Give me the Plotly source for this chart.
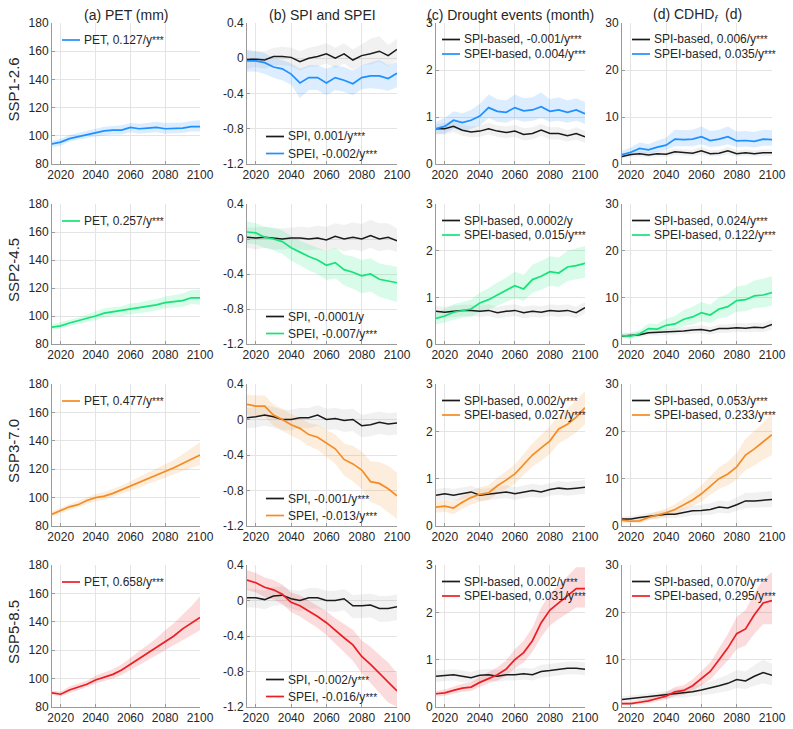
import plotly.graph_objects as go

# ---------------- data ----------------
YEARS = [2015, 2020, 2025, 2030, 2035, 2040, 2045, 2050, 2055, 2060,
         2065, 2070, 2075, 2080, 2085, 2090, 2095, 2100]

SCENARIOS = ["SSP1-2.6", "SSP2-4.5", "SSP3-7.0", "SSP5-8.5"]
PANEL_TITLES = ["(a) PET (mm)", "(b) SPI and SPEI", "(c) Drought events (month)",
                "(d) CDHD<sub><i>f</i></sub>  (d)"]

# ---- SSP1-2.6 ----
PET_126 = [94.2, 95.5, 98.0, 99.5, 101.0, 102.0, 103.5, 104.0, 104.0, 106.0, 105.0, 105.5, 106.0, 105.0, 105.0, 105.5, 106.5, 106.5]
PET_126_LO = [92.0, 93.0, 96.0, 97.0, 98.5, 99.5, 100.5, 101.0, 101.0, 102.5, 101.5, 102.0, 102.5, 101.5, 101.5, 102.0, 103.0, 103.0]
PET_126_HI = [96.5, 98.0, 100.5, 102.0, 103.5, 105.0, 106.5, 107.0, 107.5, 109.0, 108.5, 109.0, 110.0, 109.0, 109.0, 109.5, 110.5, 111.0]
SPI_126 = [-0.01, -0.01, -0.02, 0.02, 0.02, 0.01, -0.04, 0.00, 0.02, 0.05, 0.00, 0.05, -0.02, 0.03, 0.05, 0.08, 0.03, 0.10]
SPI_126_LO = [-0.12, -0.10, -0.12, -0.08, -0.08, -0.09, -0.14, -0.10, -0.09, -0.06, -0.11, -0.06, -0.13, -0.08, -0.07, -0.04, -0.09, -0.02]
SPI_126_HI = [0.08, 0.08, 0.08, 0.12, 0.13, 0.12, 0.08, 0.12, 0.14, 0.17, 0.12, 0.17, 0.10, 0.16, 0.22, 0.25, 0.15, 0.22]
SPEI_126 = [-0.03, -0.03, -0.05, -0.10, -0.12, -0.18, -0.28, -0.22, -0.22, -0.28, -0.22, -0.25, -0.29, -0.22, -0.20, -0.20, -0.23, -0.17]
SPEI_126_LO = [-0.15, -0.15, -0.18, -0.22, -0.25, -0.30, -0.45, -0.36, -0.36, -0.42, -0.36, -0.38, -0.42, -0.35, -0.34, -0.35, -0.37, -0.33]
SPEI_126_HI = [0.10, 0.08, 0.06, 0.00, -0.02, -0.06, -0.12, -0.08, -0.08, -0.12, -0.08, -0.10, -0.14, -0.08, -0.05, -0.02, -0.08, -0.04]
DE_SPI_126 = [0.75, 0.75, 0.80, 0.72, 0.68, 0.70, 0.75, 0.70, 0.67, 0.70, 0.63, 0.65, 0.72, 0.65, 0.65, 0.60, 0.65, 0.58]
DE_SPI_126_LO = [0.65, 0.62, 0.68, 0.60, 0.57, 0.58, 0.63, 0.58, 0.55, 0.58, 0.50, 0.52, 0.60, 0.52, 0.52, 0.48, 0.52, 0.45]
DE_SPI_126_HI = [0.85, 0.87, 0.92, 0.84, 0.80, 0.82, 0.88, 0.82, 0.80, 0.83, 0.76, 0.78, 0.85, 0.78, 0.78, 0.72, 0.78, 0.70]
DE_SPEI_126 = [0.75, 0.80, 0.93, 0.88, 0.93, 1.02, 1.20, 1.12, 1.10, 1.20, 1.13, 1.15, 1.22, 1.12, 1.15, 1.10, 1.15, 1.07]
DE_SPEI_126_LO = [0.62, 0.65, 0.75, 0.70, 0.75, 0.82, 0.98, 0.90, 0.88, 0.95, 0.90, 0.92, 0.98, 0.90, 0.92, 0.88, 0.92, 0.85]
DE_SPEI_126_HI = [0.90, 0.98, 1.12, 1.08, 1.15, 1.28, 1.48, 1.38, 1.35, 1.48, 1.40, 1.42, 1.52, 1.38, 1.42, 1.35, 1.40, 1.32]
CD_SPI_126 = [1.6, 2.0, 2.2, 1.9, 2.2, 2.1, 2.6, 2.5, 2.3, 2.8, 2.2, 2.3, 2.8, 2.2, 2.4, 2.2, 2.4, 2.4]
CD_SPI_126_LO = [1.2, 1.5, 1.6, 1.4, 1.6, 1.5, 1.9, 1.8, 1.7, 2.0, 1.6, 1.7, 2.0, 1.6, 1.7, 1.6, 1.7, 1.7]
CD_SPI_126_HI = [2.0, 2.5, 2.8, 2.5, 2.8, 2.8, 3.3, 3.2, 3.0, 3.6, 2.9, 3.0, 3.6, 2.9, 3.1, 2.9, 3.1, 3.1]
CD_SPEI_126 = [2.0, 2.5, 3.3, 3.0, 3.6, 4.0, 5.3, 5.2, 5.3, 5.8, 5.0, 5.3, 5.8, 4.9, 5.0, 4.8, 5.3, 5.2]
CD_SPEI_126_LO = [1.4, 1.8, 2.4, 2.2, 2.6, 3.0, 3.8, 3.8, 3.8, 4.2, 3.6, 3.8, 4.2, 3.6, 3.7, 3.5, 3.9, 3.9]
CD_SPEI_126_HI = [2.8, 3.5, 4.6, 4.2, 5.0, 5.6, 7.3, 7.2, 7.3, 8.0, 7.0, 7.3, 8.0, 6.9, 7.0, 6.8, 7.3, 7.2]

# ---- SSP2-4.5 ----
PET_245 = [92.0, 93.0, 95.0, 96.5, 98.0, 100.0, 102.0, 103.0, 103.5, 105.0, 105.5, 107.0, 108.0, 109.5, 110.5, 111.0, 113.0, 113.0]
PET_245_LO = [90.0, 91.0, 92.5, 94.0, 95.5, 97.0, 99.0, 100.0, 100.0, 101.5, 102.0, 103.0, 104.0, 105.5, 106.0, 106.5, 108.5, 108.0]
PET_245_HI = [94.0, 95.5, 97.5, 99.0, 101.0, 103.0, 105.5, 106.5, 107.0, 109.0, 109.5, 111.0, 112.0, 114.0, 115.0, 116.0, 118.5, 119.0]
SPI_245 = [0.02, 0.01, 0.02, 0.01, 0.00, 0.01, 0.01, 0.00, 0.01, -0.01, 0.03, 0.00, 0.02, 0.00, 0.04, 0.00, 0.02, -0.02]
SPI_245_LO = [-0.10, -0.12, -0.10, -0.12, -0.12, -0.11, -0.12, -0.13, -0.12, -0.14, -0.11, -0.14, -0.12, -0.14, -0.10, -0.14, -0.12, -0.15]
SPI_245_HI = [0.13, 0.13, 0.14, 0.13, 0.12, 0.13, 0.14, 0.13, 0.15, 0.14, 0.18, 0.16, 0.19, 0.17, 0.22, 0.18, 0.18, 0.12]
SPEI_245 = [0.08, 0.07, 0.02, 0.00, -0.03, -0.10, -0.15, -0.20, -0.24, -0.30, -0.27, -0.35, -0.38, -0.42, -0.40, -0.46, -0.48, -0.50]
SPEI_245_LO = [-0.05, -0.06, -0.10, -0.13, -0.17, -0.25, -0.30, -0.36, -0.40, -0.47, -0.45, -0.53, -0.57, -0.62, -0.60, -0.66, -0.69, -0.72]
SPEI_245_HI = [0.20, 0.18, 0.14, 0.12, 0.10, 0.03, -0.02, -0.06, -0.10, -0.14, -0.10, -0.18, -0.20, -0.24, -0.22, -0.28, -0.30, -0.32]
DE_SPI_245 = [0.70, 0.68, 0.70, 0.72, 0.72, 0.70, 0.72, 0.67, 0.70, 0.72, 0.67, 0.70, 0.68, 0.72, 0.70, 0.72, 0.67, 0.78]
DE_SPI_245_LO = [0.58, 0.56, 0.58, 0.60, 0.60, 0.58, 0.60, 0.55, 0.58, 0.60, 0.55, 0.58, 0.56, 0.60, 0.58, 0.60, 0.55, 0.66]
DE_SPI_245_HI = [0.82, 0.80, 0.82, 0.84, 0.84, 0.82, 0.85, 0.80, 0.83, 0.85, 0.80, 0.83, 0.81, 0.85, 0.83, 0.85, 0.80, 0.90]
DE_SPEI_245 = [0.55, 0.60, 0.68, 0.72, 0.75, 0.88, 0.95, 1.05, 1.15, 1.25, 1.18, 1.38, 1.45, 1.55, 1.52, 1.65, 1.68, 1.73]
DE_SPEI_245_LO = [0.42, 0.46, 0.52, 0.56, 0.58, 0.68, 0.74, 0.82, 0.90, 0.98, 0.92, 1.10, 1.16, 1.25, 1.22, 1.35, 1.38, 1.42]
DE_SPEI_245_HI = [0.68, 0.75, 0.85, 0.90, 0.95, 1.10, 1.20, 1.32, 1.42, 1.55, 1.48, 1.70, 1.78, 1.88, 1.85, 2.00, 2.05, 2.10]
CD_SPI_245 = [1.7, 1.9, 2.0, 2.4, 2.5, 2.5, 2.7, 2.8, 3.0, 3.1, 2.8, 3.3, 3.3, 3.5, 3.4, 3.6, 3.5, 4.2]
CD_SPI_245_LO = [1.3, 1.4, 1.5, 1.8, 1.8, 1.8, 2.0, 2.0, 2.2, 2.3, 2.0, 2.4, 2.4, 2.6, 2.5, 2.6, 2.5, 3.1]
CD_SPI_245_HI = [2.1, 2.4, 2.6, 3.0, 3.2, 3.2, 3.4, 3.6, 3.8, 4.0, 3.6, 4.2, 4.2, 4.5, 4.4, 4.6, 4.5, 5.3]
CD_SPEI_245 = [1.8, 1.7, 2.2, 3.3, 3.2, 4.0, 4.3, 5.3, 5.8, 6.7, 6.2, 7.5, 8.0, 9.3, 9.5, 10.3, 10.5, 11.0]
CD_SPEI_245_LO = [1.3, 1.2, 1.6, 2.4, 2.3, 2.9, 3.1, 3.8, 4.2, 4.9, 4.5, 5.5, 5.9, 6.9, 7.0, 7.7, 7.8, 8.2]
CD_SPEI_245_HI = [2.4, 2.4, 3.0, 4.4, 4.3, 5.4, 6.0, 7.3, 8.0, 9.0, 8.4, 10.0, 10.7, 12.3, 12.6, 13.6, 14.0, 14.5]

# ---- SSP3-7.0 ----
PET_370 = [88.3, 91.0, 93.5, 95.0, 98.0, 100.0, 101.0, 103.0, 105.5, 108.0, 110.5, 113.0, 116.0, 118.5, 121.0, 124.0, 127.0, 130.0]
PET_370_LO = [86.5, 89.0, 91.5, 93.0, 95.5, 97.5, 98.5, 100.5, 102.5, 105.0, 107.0, 109.5, 112.0, 114.0, 116.5, 118.5, 121.0, 123.0]
PET_370_HI = [90.5, 93.0, 95.5, 97.5, 100.5, 102.5, 104.0, 106.0, 108.5, 111.5, 114.5, 117.0, 120.5, 123.5, 126.5, 130.5, 135.0, 139.0]
SPI_370 = [0.02, 0.03, 0.05, 0.03, 0.00, 0.00, 0.02, 0.02, 0.05, 0.00, 0.01, -0.01, 0.00, -0.07, -0.06, -0.03, -0.05, -0.04]
SPI_370_LO = [-0.10, -0.09, -0.07, -0.09, -0.12, -0.12, -0.10, -0.10, -0.07, -0.12, -0.11, -0.14, -0.13, -0.20, -0.19, -0.16, -0.18, -0.17]
SPI_370_HI = [0.13, 0.14, 0.16, 0.14, 0.11, 0.11, 0.13, 0.13, 0.16, 0.12, 0.13, 0.11, 0.12, 0.05, 0.07, 0.09, 0.07, 0.08]
SPEI_370 = [0.17, 0.15, 0.15, 0.05, 0.00, -0.06, -0.10, -0.17, -0.20, -0.27, -0.33, -0.45, -0.50, -0.57, -0.70, -0.72, -0.78, -0.86]
SPEI_370_LO = [0.05, 0.03, 0.03, -0.07, -0.12, -0.18, -0.23, -0.30, -0.34, -0.42, -0.50, -0.63, -0.70, -0.78, -0.93, -0.97, -1.04, -1.12]
SPEI_370_HI = [0.28, 0.27, 0.27, 0.17, 0.12, 0.06, 0.02, -0.04, -0.06, -0.12, -0.17, -0.27, -0.30, -0.36, -0.47, -0.48, -0.52, -0.60]
DE_SPI_370 = [0.65, 0.68, 0.65, 0.68, 0.72, 0.65, 0.67, 0.70, 0.72, 0.68, 0.72, 0.75, 0.72, 0.77, 0.80, 0.78, 0.80, 0.82]
DE_SPI_370_LO = [0.53, 0.56, 0.53, 0.56, 0.60, 0.53, 0.55, 0.57, 0.59, 0.55, 0.59, 0.62, 0.59, 0.64, 0.66, 0.64, 0.66, 0.68]
DE_SPI_370_HI = [0.78, 0.81, 0.78, 0.81, 0.85, 0.78, 0.80, 0.84, 0.86, 0.82, 0.86, 0.89, 0.86, 0.91, 0.95, 0.93, 0.95, 0.97]
DE_SPEI_370 = [0.40, 0.42, 0.38, 0.50, 0.60, 0.67, 0.70, 0.85, 0.97, 1.10, 1.30, 1.50, 1.65, 1.80, 2.05, 2.15, 2.30, 2.50]
DE_SPEI_370_LO = [0.28, 0.30, 0.25, 0.36, 0.45, 0.52, 0.55, 0.68, 0.78, 0.90, 1.08, 1.25, 1.38, 1.52, 1.75, 1.85, 1.98, 2.15]
DE_SPEI_370_HI = [0.52, 0.55, 0.52, 0.64, 0.75, 0.82, 0.86, 1.02, 1.16, 1.30, 1.52, 1.75, 1.92, 2.10, 2.35, 2.48, 2.65, 2.85]
CD_SPI_370 = [1.5, 1.5, 1.8, 2.0, 2.2, 2.5, 2.5, 2.8, 3.2, 3.3, 3.5, 4.0, 3.8, 4.5, 5.3, 5.3, 5.4, 5.6]
CD_SPI_370_LO = [1.0, 1.0, 1.2, 1.4, 1.5, 1.7, 1.7, 1.9, 2.2, 2.3, 2.4, 2.8, 2.6, 3.2, 3.8, 3.8, 3.9, 4.0]
CD_SPI_370_HI = [2.0, 2.1, 2.4, 2.7, 3.0, 3.3, 3.4, 3.8, 4.3, 4.5, 4.8, 5.4, 5.2, 6.0, 7.0, 7.0, 7.2, 7.4]
CD_SPEI_370 = [1.2, 1.0, 1.1, 1.8, 2.3, 2.8, 3.5, 4.5, 5.5, 6.8, 8.5, 10.0, 11.0, 12.5, 15.0, 16.3, 17.8, 19.3]
CD_SPEI_370_LO = [0.7, 0.6, 0.6, 1.2, 1.6, 2.0, 2.6, 3.4, 4.2, 5.2, 6.6, 7.8, 8.6, 9.8, 11.8, 12.8, 14.0, 15.0]
CD_SPEI_370_HI = [1.8, 1.5, 1.7, 2.5, 3.1, 3.7, 4.6, 5.8, 7.0, 8.6, 10.6, 12.4, 13.6, 15.4, 18.4, 20.0, 21.8, 23.8]

# ---- SSP5-8.5 ----
PET_585 = [90.0, 89.0, 92.0, 94.0, 96.0, 99.0, 101.0, 103.0, 106.0, 110.0, 114.0, 118.0, 122.0, 126.0, 130.0, 135.0, 139.0, 143.0]
PET_585_LO = [88.5, 87.5, 90.0, 92.0, 94.0, 96.5, 98.5, 100.0, 102.5, 106.0, 109.5, 113.0, 116.5, 119.5, 123.0, 127.0, 130.5, 134.0]
PET_585_HI = [91.5, 91.0, 94.5, 96.5, 98.5, 102.0, 104.0, 106.5, 110.0, 114.5, 119.0, 123.5, 128.5, 134.0, 139.0, 145.0, 151.0, 158.0]
SPI_585 = [0.03, 0.03, 0.01, 0.05, 0.06, 0.02, 0.00, 0.03, 0.03, 0.00, 0.00, 0.02, -0.06, -0.06, -0.05, -0.09, -0.09, -0.07]
SPI_585_LO = [-0.08, -0.08, -0.10, -0.06, -0.05, -0.09, -0.12, -0.09, -0.09, -0.12, -0.13, -0.11, -0.20, -0.20, -0.19, -0.24, -0.24, -0.22]
SPI_585_HI = [0.13, 0.13, 0.11, 0.15, 0.16, 0.12, 0.11, 0.14, 0.14, 0.11, 0.11, 0.13, 0.06, 0.07, 0.08, 0.05, 0.05, 0.07]
SPEI_585 = [0.23, 0.20, 0.15, 0.12, 0.07, -0.02, -0.06, -0.12, -0.18, -0.25, -0.34, -0.42, -0.50, -0.63, -0.72, -0.82, -0.92, -1.02]
SPEI_585_LO = [0.12, 0.09, 0.04, 0.01, -0.04, -0.13, -0.18, -0.24, -0.31, -0.39, -0.49, -0.58, -0.68, -0.82, -0.93, -1.04, -1.15, -1.20]
SPEI_585_HI = [0.34, 0.31, 0.26, 0.23, 0.18, 0.09, 0.06, 0.00, -0.06, -0.12, -0.20, -0.27, -0.33, -0.45, -0.52, -0.61, -0.70, -0.82]
DE_SPI_585 = [0.65, 0.67, 0.68, 0.65, 0.62, 0.67, 0.68, 0.65, 0.68, 0.68, 0.70, 0.68, 0.75, 0.77, 0.80, 0.82, 0.82, 0.80]
DE_SPI_585_LO = [0.53, 0.55, 0.56, 0.53, 0.50, 0.55, 0.56, 0.53, 0.56, 0.56, 0.58, 0.56, 0.62, 0.64, 0.67, 0.69, 0.69, 0.67]
DE_SPI_585_HI = [0.77, 0.79, 0.80, 0.77, 0.74, 0.79, 0.81, 0.78, 0.81, 0.81, 0.83, 0.81, 0.89, 0.91, 0.94, 0.96, 0.96, 0.94]
DE_SPEI_585 = [0.28, 0.30, 0.35, 0.40, 0.42, 0.52, 0.60, 0.68, 0.80, 1.00, 1.15, 1.40, 1.78, 2.05, 2.20, 2.35, 2.50, 2.50]
DE_SPEI_585_LO = [0.22, 0.24, 0.28, 0.32, 0.34, 0.42, 0.50, 0.56, 0.65, 0.82, 0.94, 1.16, 1.48, 1.72, 1.86, 1.98, 2.10, 2.10]
DE_SPEI_585_HI = [0.34, 0.37, 0.43, 0.49, 0.52, 0.64, 0.74, 0.84, 0.98, 1.22, 1.40, 1.68, 2.10, 2.40, 2.58, 2.76, 2.95, 2.95]
CD_SPI_585 = [1.6, 1.8, 2.0, 2.2, 2.3, 2.5, 2.8, 2.9, 3.2, 3.6, 4.0, 4.5, 5.0, 5.8, 5.5, 6.5, 7.3, 6.7]
CD_SPI_585_LO = [1.1, 1.2, 1.4, 1.5, 1.6, 1.7, 1.9, 2.0, 2.2, 2.5, 2.7, 3.0, 3.4, 4.0, 3.8, 4.5, 5.0, 4.6]
CD_SPI_585_HI = [2.2, 2.4, 2.7, 2.9, 3.1, 3.4, 3.8, 4.0, 4.4, 4.9, 5.4, 6.1, 6.8, 7.8, 7.5, 8.8, 10.0, 9.2]
CD_SPEI_585 = [0.7, 0.7, 1.0, 1.3, 1.8, 2.3, 3.2, 3.5, 4.5, 6.0, 7.5, 10.0, 12.5, 15.5, 16.5, 19.5, 22.0, 22.5]
CD_SPEI_585_LO = [0.4, 0.4, 0.6, 0.8, 1.2, 1.6, 2.3, 2.6, 3.4, 4.6, 5.8, 7.8, 9.8, 12.2, 13.0, 15.5, 17.5, 17.5]
CD_SPEI_585_HI = [1.1, 1.1, 1.5, 1.9, 2.5, 3.1, 4.2, 4.6, 5.8, 7.6, 9.4, 12.4, 15.4, 19.0, 20.5, 24.0, 27.0, 28.5]

# legend labels
LEG_PET = ["PET, 0.127/y***", "PET, 0.257/y***", "PET, 0.477/y***", "PET, 0.658/y***"]
LEG_SPI = [["SPI, 0.001/y***", "SPEI, -0.002/y***"], ["SPI, -0.0001/y", "SPEI, -0.007/y***"],
           ["SPI, -0.001/y***", "SPEI, -0.013/y***"], ["SPI, -0.002/y***", "SPEI, -0.016/y***"]]
LEG_DE = [["SPI-based, -0.001/y***", "SPEI-based, 0.004/y***"], ["SPI-based, 0.0002/y", "SPEI-based, 0.015/y***"],
          ["SPI-based, 0.002/y***", "SPEI-based, 0.027/y***"], ["SPI-based, 0.002/y***", "SPEI-based, 0.031/y***"]]
LEG_CD = [["SPI-based, 0.006/y***", "SPEI-based, 0.035/y***"], ["SPI-based, 0.024/y***", "SPEI-based, 0.122/y***"],
          ["SPI-based, 0.053/y***", "SPEI-based, 0.233/y***"], ["SPI-based, 0.070/y***", "SPEI-based, 0.295/y***"]]

# axes
Y_RANGES = [[80, 180], [-1.2, 0.4], [0, 3], [0, 30]]
Y_TICKS = [[80, 100, 120, 140, 160, 180], [-1.2, -0.8, -0.4, 0, 0.4], [0, 1, 2, 3], [0, 10, 20, 30]]
Y_TICKTEXT = [["80", "100", "120", "140", "160", "180"], ["-1.2", "-0.8", "-0.4", "0", "0.4"],
              ["0", "1", "2", "3"], ["0", "10", "20", "30"]]
X_TICKS = [2020, 2040, 2060, 2080, 2100]

# ---------------- styling ----------------
SCEN_COLORS = [(30, 144, 255), (20, 228, 120), (245, 140, 35), (235, 30, 35)]
BLACK = "#1a1a1a"
GREY_BAND = "rgba(170,170,170,0.17)"
BAND_ALPHA = 0.16
FONT = "Liberation Sans, Arial, sans-serif"
W, H = 793, 729
COL_PX = [(52, 200), (247, 397), (436, 585), (622, 772)]
ROW_PX = [(23, 164), (204, 344), (384, 526), (565, 707)]
LEG_START = [10, 19, 6, 10]   # sample-line offset from plot left (px)
LEG_LEN = 18


def rgb(c, a=None):
    return f"rgb({c[0]},{c[1]},{c[2]})" if a is None else f"rgba({c[0]},{c[1]},{c[2]},{a})"


def fmt(label):
    if label.endswith("***"):
        return label[:-3] + "<span style='font-size:10px'>***</span>"
    return label


ROWS = [
    dict(pet=(PET_126, PET_126_LO, PET_126_HI),
         spi=(SPI_126, SPI_126_LO, SPI_126_HI), spei=(SPEI_126, SPEI_126_LO, SPEI_126_HI),
         de_spi=(DE_SPI_126, DE_SPI_126_LO, DE_SPI_126_HI), de_spei=(DE_SPEI_126, DE_SPEI_126_LO, DE_SPEI_126_HI),
         cd_spi=(CD_SPI_126, CD_SPI_126_LO, CD_SPI_126_HI), cd_spei=(CD_SPEI_126, CD_SPEI_126_LO, CD_SPEI_126_HI)),
    dict(pet=(PET_245, PET_245_LO, PET_245_HI),
         spi=(SPI_245, SPI_245_LO, SPI_245_HI), spei=(SPEI_245, SPEI_245_LO, SPEI_245_HI),
         de_spi=(DE_SPI_245, DE_SPI_245_LO, DE_SPI_245_HI), de_spei=(DE_SPEI_245, DE_SPEI_245_LO, DE_SPEI_245_HI),
         cd_spi=(CD_SPI_245, CD_SPI_245_LO, CD_SPI_245_HI), cd_spei=(CD_SPEI_245, CD_SPEI_245_LO, CD_SPEI_245_HI)),
    dict(pet=(PET_370, PET_370_LO, PET_370_HI),
         spi=(SPI_370, SPI_370_LO, SPI_370_HI), spei=(SPEI_370, SPEI_370_LO, SPEI_370_HI),
         de_spi=(DE_SPI_370, DE_SPI_370_LO, DE_SPI_370_HI), de_spei=(DE_SPEI_370, DE_SPEI_370_LO, DE_SPEI_370_HI),
         cd_spi=(CD_SPI_370, CD_SPI_370_LO, CD_SPI_370_HI), cd_spei=(CD_SPEI_370, CD_SPEI_370_LO, CD_SPEI_370_HI)),
    dict(pet=(PET_585, PET_585_LO, PET_585_HI),
         spi=(SPI_585, SPI_585_LO, SPI_585_HI), spei=(SPEI_585, SPEI_585_LO, SPEI_585_HI),
         de_spi=(DE_SPI_585, DE_SPI_585_LO, DE_SPI_585_HI), de_spei=(DE_SPEI_585, DE_SPEI_585_LO, DE_SPEI_585_HI),
         cd_spi=(CD_SPI_585, CD_SPI_585_LO, CD_SPI_585_HI), cd_spei=(CD_SPEI_585, CD_SPEI_585_LO, CD_SPEI_585_HI)),
]

fig = go.Figure()
layout = dict(width=W, height=H, margin=dict(l=0, r=0, t=0, b=0), template="none",
              paper_bgcolor="white", plot_bgcolor="white", showlegend=False,
              font=dict(family=FONT, size=12, color="#262626"))
annotations, shapes = [], []


def px_x(p):
    return p / W


def px_y(p):
    return 1 - p / H


def add_band(k, series, color_line, color_band, width):
    mean, lo, hi = series
    xa = "x" if k == 1 else f"x{k}"
    ya = "y" if k == 1 else f"y{k}"
    fig.add_trace(go.Scatter(x=YEARS + YEARS[::-1], y=hi + lo[::-1], fill="toself",
                             fillcolor=color_band, line=dict(width=0), mode="lines",
                             hoverinfo="skip", xaxis=xa, yaxis=ya))
    return (xa, ya, mean, color_line, width)


for r in range(4):
    d = ROWS[r]
    col = SCEN_COLORS[r]
    panels = [
        [d["pet"]],
        [d["spi"], d["spei"]],
        [d["de_spi"], d["de_spei"]],
        [d["cd_spi"], d["cd_spei"]],
    ]
    labels = [[LEG_PET[r]], LEG_SPI[r], LEG_DE[r], LEG_CD[r]]
    for c in range(4):
        k = r * 4 + c + 1
        x0, x1 = COL_PX[c]
        y0, y1 = ROW_PX[r]
        sx = "" if k == 1 else str(k)
        layout[f"xaxis{sx}"] = dict(
            domain=[px_x(x0), px_x(x1)], anchor=f"y{sx}", range=[2015, 2100],
            tickvals=X_TICKS, ticks="inside", ticklen=3, tickcolor="#9a9a9a",
            showline=True, linecolor="#9a9a9a", linewidth=1, mirror=False,
            showgrid=True, gridcolor="#e4e4e4", gridwidth=1, zeroline=False,
            automargin=False, tickfont=dict(size=12, color="#262626", family=FONT))
        layout[f"yaxis{sx}"] = dict(
            domain=[px_y(y1), px_y(y0)], anchor=f"x{sx}", range=Y_RANGES[c],
            tickvals=Y_TICKS[c], ticktext=Y_TICKTEXT[c], ticks="inside", ticklen=3,
            tickcolor="#9a9a9a", showline=True, linecolor="#9a9a9a", linewidth=1,
            mirror=False, showgrid=True, gridcolor="#e4e4e4", gridwidth=1,
            zeroline=False, automargin=False,
            tickfont=dict(size=12, color="#262626", family=FONT))

        series = panels[c]
        lines = []
        if len(series) == 1:
            lines.append(add_band(k, series[0], rgb(col), rgb(col, BAND_ALPHA), 1.7))
            leg_colors = [rgb(col)]
        else:
            lines.append(add_band(k, series[0], BLACK, GREY_BAND, 1.5))
            lines.append(add_band(k, series[1], rgb(col), rgb(col, BAND_ALPHA), 1.7))
            leg_colors = [BLACK, rgb(col)]
        for xa, ya, mean, lc, lw in lines:
            fig.add_trace(go.Scatter(x=YEARS, y=mean, mode="lines",
                                     line=dict(color=lc, width=lw), xaxis=xa, yaxis=ya,
                                     hoverinfo="skip"))

        # legend (drawn manually, MATLAB style, no box)
        if c == 1:
            ys = [y1 - 27.5, y1 - 10.5]
        elif c == 0:
            ys = [y0 + 17]
        else:
            ys = [y0 + 16.5, y0 + 31]
        ls = x0 + LEG_START[c]
        for lab, lc, yy in zip(labels[c], leg_colors, ys):
            shapes.append(dict(type="line", xref="paper", yref="paper",
                               x0=px_x(ls), x1=px_x(ls + LEG_LEN), y0=px_y(yy), y1=px_y(yy),
                               line=dict(color=lc, width=1.7)))
            annotations.append(dict(text=fmt(lab), xref="paper", yref="paper",
                                    x=px_x(ls + LEG_LEN + 2), y=px_y(yy), xanchor="left",
                                    yanchor="middle", showarrow=False,
                                    font=dict(size=12, color="#262626", family=FONT)))

    # row label
    yc = (ROW_PX[r][0] + ROW_PX[r][1]) / 2
    annotations.append(dict(text=SCENARIOS[r], xref="paper", yref="paper", x=px_x(13),
                            y=px_y(yc - 4), textangle=-90, showarrow=False, xanchor="center",
                            yanchor="middle", font=dict(size=15, color="#262626", family=FONT)))

for c in range(4):
    xc = (COL_PX[c][0] + COL_PX[c][1]) / 2
    annotations.append(dict(text=PANEL_TITLES[c], xref="paper", yref="paper", x=px_x(xc),
                            y=px_y(15), showarrow=False, xanchor="center", yanchor="middle",
                            font=dict(size=14, color="#262626", family=FONT)))

layout["annotations"] = annotations
layout["shapes"] = shapes
fig.update_layout(**layout)
fig.write_html("out.html")
